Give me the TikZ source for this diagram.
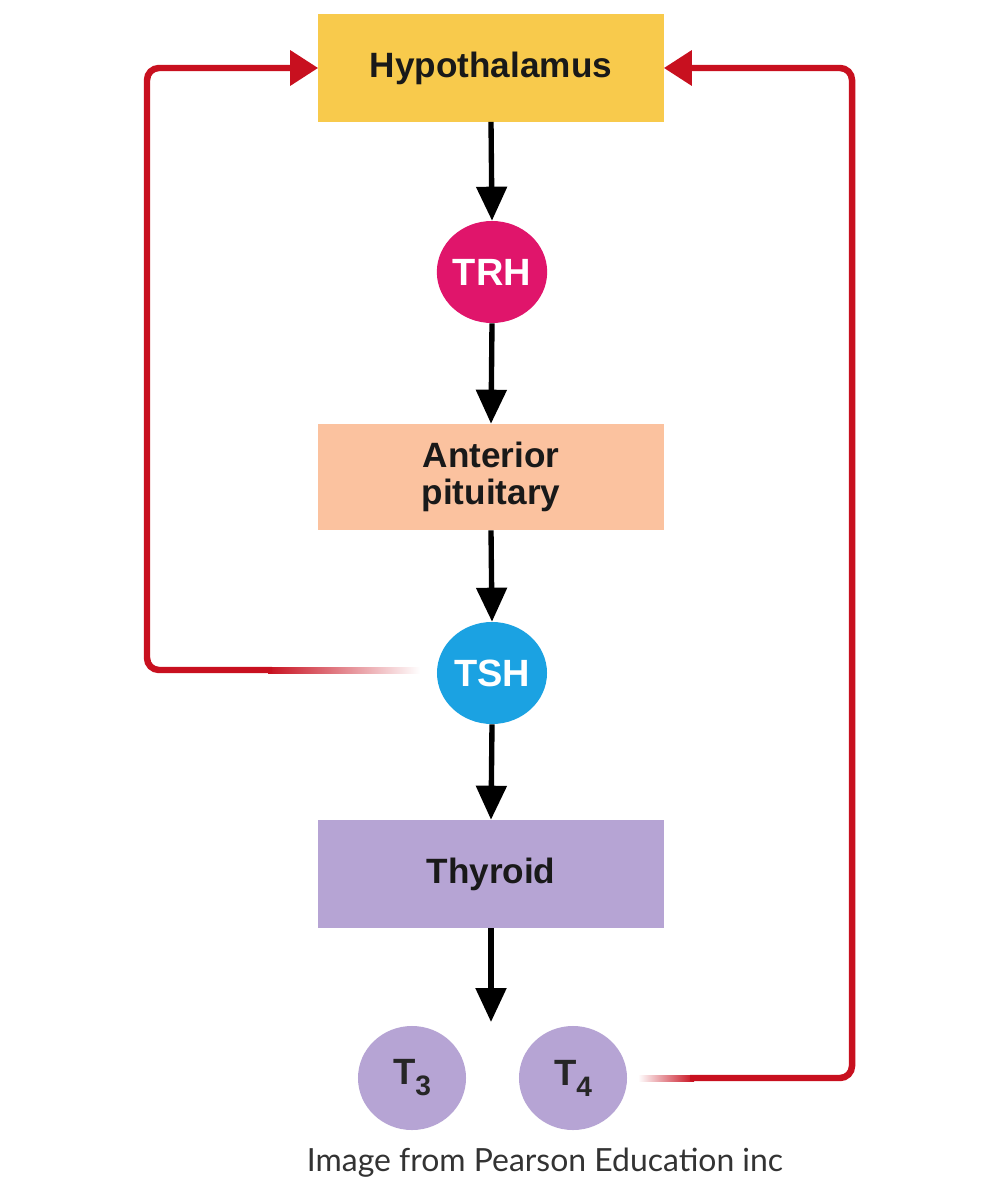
\documentclass[tikz,border=0pt]{standalone}
\usepackage{fontspec}
\setmainfont{Liberation Sans}
\newfontfamily\capfont{Lato}
\usetikzlibrary{arrows.meta,shapes.geometric}
\definecolor{hypY}{HTML}{F8CA4C}
\definecolor{trhM}{HTML}{E0156B}
\definecolor{apP}{HTML}{FBC29F}
\definecolor{tshB}{HTML}{1BA2E2}
\definecolor{thyP}{HTML}{B6A4D4}
\definecolor{fbred}{HTML}{C8101F}
\begin{document}
\begin{tikzpicture}[x=0.025cm,y=-0.025cm,
  box/.style={rectangle, minimum width=8.625cm, minimum height=2.675cm, inner sep=0pt,
    font=\fontsize{25}{26}\selectfont\bfseries, align=center, text=black!90},
  hormone/.style={ellipse, minimum width=2.75cm, minimum height=2.55cm, inner sep=0pt,
    font=\fontsize{27}{27}\selectfont\bfseries, text=white},
  tcirc/.style={ellipse, fill=thyP, minimum width=2.7cm, minimum height=2.6cm, inner sep=0pt,
    font=\fontsize{26}{26}\selectfont\bfseries, text=black!85},
  flow/.style={line width=3.8pt, black, -{Triangle[width=0.75cm,length=0.85cm]}},
  fb/.style={draw=fbred, line width=4.6pt, rounded corners=0.3cm, -{Triangle[width=0.85cm,length=0.7cm]}},
  fade/.style={draw=none}
]
\useasboundingbox[fill=white] (0,0) rectangle (1000,1200);

% main chain
\node[box, fill=hypY] (hyp) at (491,68) {Hypothalamus};
\node[hormone, fill=trhM] (trh) at (492,272) {TRH};
\node[box, fill=apP, minimum height=2.65cm] (ap) at (491,477) {Anterior\\pituitary};
\node[hormone, fill=tshB] (tsh) at (492,673) {TSH};
\node[box, fill=thyP, minimum height=2.7cm] (thy) at (491,874) {Thyroid};
\node[tcirc] (t3) at (412,1078) {T\raisebox{-0.3em}{\fontsize{20}{20}\selectfont 3}};
\node[tcirc] (t4) at (573,1078) {T\raisebox{-0.3em}{\fontsize{20}{20}\selectfont 4}};
\coordinate (thyout) at (491,1022);

\draw[flow] (hyp.south) -- (trh.north);
\draw[flow] (trh.south) -- (ap.north);
\draw[flow] (ap.south) -- (tsh.north);
\draw[flow] (tsh.south) -- (thy.north);
\draw[flow] (thy.south) -- (thyout);

% feedback loops
\coordinate (fbL) at (272,670);
\coordinate (cL) at (147,68);
\shade[fade, left color=fbred, middle color=fbred!65!white, right color=white] (268,667) rectangle (420,673);
\draw[fb] (fbL) -| (cL) -- (hyp.west);

\coordinate (fbR) at (690,1078);
\coordinate (cR) at (852,68);
\shade[fade, left color=white, middle color=fbred!65!white, right color=fbred] (638,1075) rectangle (694,1081);
\draw[fb] (fbR) -| (cR) -- (hyp.east);

\node[font=\capfont\fontsize{22.7}{23}\selectfont, text=black!80] (cap) at (545,1163) {Image from Pearson Education inc};
\end{tikzpicture}
\end{document}
